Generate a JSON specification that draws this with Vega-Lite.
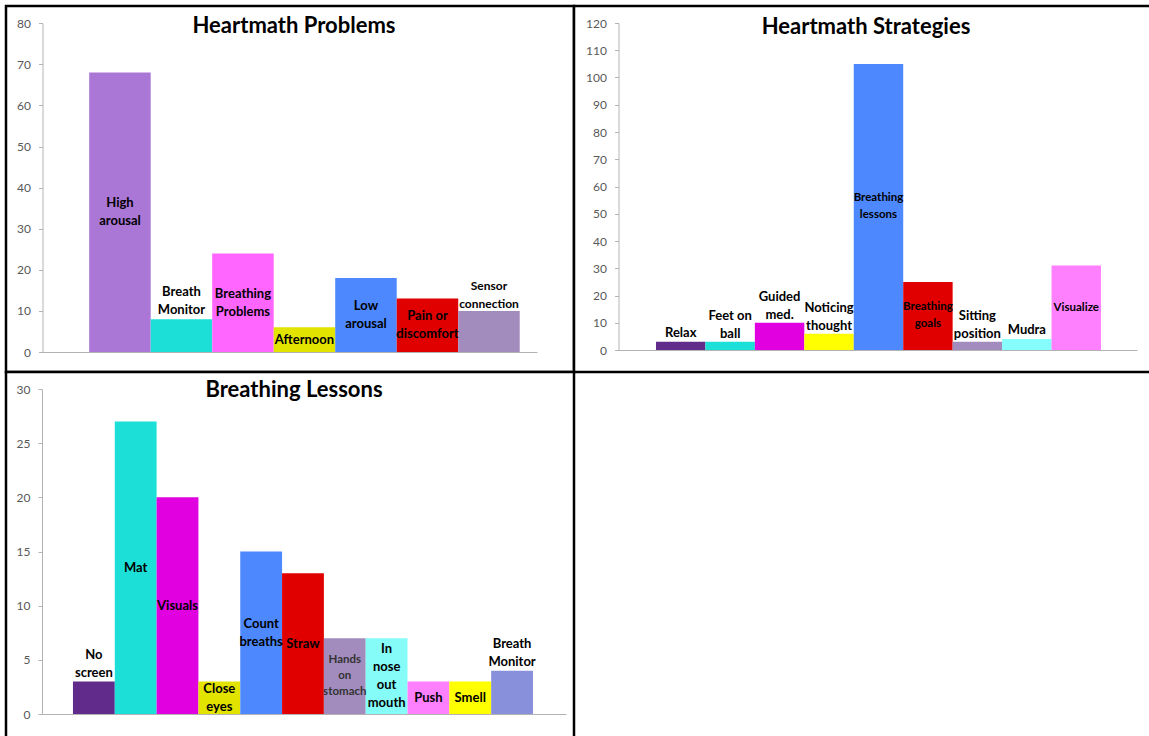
{
  "$schema": "https://vega.github.io/schema/vega-lite/v6.json",
  "padding": {"left": 4, "top": 4, "right": 0, "bottom": 0},
  "background": "white",
  "spacing": 0,
  "bounds": "flush",
  "columns": 2,
  "resolve": {"scale": {"color": "independent", "x": "independent", "y": "independent"}},
  "datasets": {
    "p1": [
      {"name": "High\narousal", "value": 68},
      {"name": "Breath\nMonitor", "value": 8},
      {"name": "Breathing\nProblems", "value": 24},
      {"name": "Afternoon", "value": 6},
      {"name": "Low\narousal", "value": 18},
      {"name": "Pain or\ndiscomfort", "value": 13},
      {"name": "Sensor\nconnection", "value": 10}
    ],
    "p2": [
      {"name": "Relax", "value": 3},
      {"name": "Feet on\nball", "value": 3},
      {"name": "Guided\nmed.", "value": 10},
      {"name": "Noticing\nthought", "value": 6},
      {"name": "Breathing\nlessons", "value": 105},
      {"name": "Breathing\ngoals", "value": 25},
      {"name": "Sitting\nposition", "value": 3},
      {"name": "Mudra", "value": 4},
      {"name": "Visualize", "value": 31}
    ],
    "p3": [
      {"name": "No\nscreen", "value": 3},
      {"name": "Mat", "value": 27},
      {"name": "Visuals", "value": 20},
      {"name": "Close\neyes", "value": 3},
      {"name": "Count\nbreaths", "value": 15},
      {"name": "Straw", "value": 13},
      {"name": "Hands\non\nstomach", "value": 7},
      {"name": "In\nnose\nout\nmouth", "value": 7},
      {"name": "Push", "value": 3},
      {"name": "Smell", "value": 3},
      {"name": "Breath\nMonitor", "value": 4}
    ]
  },
  "concat": [
    {
      "width": 568,
      "height": 366,
      "view": {"stroke": "#000000", "strokeWidth": 2.5, "fill": "white"},
      "title": {"text": "Heartmath Problems", "anchor": "middle", "frame": "group", "offset": -32, "dx": 4},
      "data": {"name": "p1"},
      "encoding": {
        "x": {"field": "name", "type": "nominal", "sort": null,
          "scale": {"range": [36.5, 531], "paddingInner": 0, "paddingOuter": 0.52, "align": 0.73},
          "axis": {"labels": false, "ticks": false, "title": null, "offset": -20}},
        "y": {"field": "value", "type": "quantitative",
          "scale": {"domain": [0, 80], "range": [346, 17.3], "nice": false},
          "axis": {"values": [0, 10, 20, 30, 40, 50, 60, 70, 80], "offset": -36.5, "title": null}}
      },
      "layer": [
        {
          "mark": {"type": "bar"},
          "encoding": {
            "color": {"field": "name", "type": "nominal", "sort": null, "legend": null,
              "scale": {
                "domain": ["High\narousal", "Breath\nMonitor", "Breathing\nProblems", "Afternoon", "Low\narousal", "Pain or\ndiscomfort", "Sensor\nconnection"],
                "range": ["#ab77d6", "#1ce0d7", "#ff66ff", "#e3e300", "#4d88ff", "#e00000", "#a18cbd"]}}
          }
        },
        {
          "transform": [
            {"filter": {"field": "name", "oneOf": ["Afternoon"]}},
            {"calculate": "datum.value / 2", "as": "mid"}
          ],
          "mark": {"type": "text", "baseline": "middle", "align": "center"},
          "encoding": {
            "y": {"field": "mid", "type": "quantitative", "scale": {"domain": [0, 80], "range": [346, 17.3], "nice": false},
              "axis": {"values": [0, 10, 20, 30, 40, 50, 60, 70, 80], "offset": -36.5, "title": null}},
            "text": {"field": "name"}
          }
        },
        {
          "transform": [
            {"filter": {"field": "name", "oneOf": ["High\narousal", "Breathing\nProblems", "Low\narousal", "Pain or\ndiscomfort"]}},
            {"calculate": "datum.value / 2", "as": "mid"}
          ],
          "mark": {"type": "text", "baseline": "middle", "align": "center", "dy": -9},
          "encoding": {
            "y": {"field": "mid", "type": "quantitative", "scale": {"domain": [0, 80], "range": [346, 17.3], "nice": false},
              "axis": {"values": [0, 10, 20, 30, 40, 50, 60, 70, 80], "offset": -36.5, "title": null}},
            "text": {"field": "name"}
          }
        },
        {
          "transform": [
            {"filter": {"field": "name", "oneOf": ["Breath\nMonitor"]}}
          ],
          "mark": {"type": "text", "baseline": "bottom", "align": "center", "dy": -20},
          "encoding": {
            "text": {"field": "name"}
          }
        },
        {
          "transform": [
            {"filter": {"field": "name", "oneOf": ["Sensor\nconnection"]}}
          ],
          "mark": {"type": "text", "baseline": "bottom", "align": "center", "dy": -18, "fontSize": 12},
          "encoding": {
            "text": {"field": "name"}
          }
        }
      ]
    },
    {
      "width": 578,
      "height": 366,
      "view": {"stroke": "#000000", "strokeWidth": 2.5, "fill": "white"},
      "title": {"text": "Heartmath Strategies", "anchor": "middle", "frame": "group", "offset": -33, "dx": 3},
      "data": {"name": "p2"},
      "encoding": {
        "x": {"field": "name", "type": "nominal", "sort": null,
          "scale": {"range": [44.5, 563], "paddingInner": 0, "paddingOuter": 0.743, "align": 0.51},
          "axis": {"labels": false, "ticks": false, "title": null, "offset": -22}},
        "y": {"field": "value", "type": "quantitative",
          "scale": {"domain": [0, 120], "range": [344, 17], "nice": false},
          "axis": {"values": [0, 10, 20, 30, 40, 50, 60, 70, 80, 90, 100, 110, 120], "offset": -44.5, "title": null}}
      },
      "layer": [
        {
          "mark": {"type": "bar"},
          "encoding": {
            "color": {"field": "name", "type": "nominal", "sort": null, "legend": null,
              "scale": {
                "domain": ["Relax", "Feet on\nball", "Guided\nmed.", "Noticing\nthought", "Breathing\nlessons", "Breathing\ngoals", "Sitting\nposition", "Mudra", "Visualize"],
                "range": ["#612b8c", "#1ce0d7", "#e000e0", "#ffff00", "#4d88ff", "#e00000", "#a18cbd", "#86fcfc", "#ff80ff"]}}
          }
        },
        {
          "transform": [
            {"filter": {"field": "name", "oneOf": ["Visualize"]}},
            {"calculate": "datum.value / 2", "as": "mid"}
          ],
          "mark": {"type": "text", "baseline": "middle", "align": "center", "fontSize": 11.5},
          "encoding": {
            "y": {"field": "mid", "type": "quantitative", "scale": {"domain": [0, 120], "range": [344, 17], "nice": false},
              "axis": {"values": [0, 10, 20, 30, 40, 50, 60, 70, 80, 90, 100, 110, 120], "offset": -44.5, "title": null}},
            "text": {"field": "name"}
          }
        },
        {
          "transform": [
            {"filter": {"field": "name", "oneOf": ["Breathing\nlessons", "Breathing\ngoals"]}},
            {"calculate": "datum.value / 2", "as": "mid"}
          ],
          "mark": {"type": "text", "baseline": "middle", "align": "center", "fontSize": 11.5, "lineHeight": 17, "dy": -8.5},
          "encoding": {
            "y": {"field": "mid", "type": "quantitative", "scale": {"domain": [0, 120], "range": [344, 17], "nice": false},
              "axis": {"values": [0, 10, 20, 30, 40, 50, 60, 70, 80, 90, 100, 110, 120], "offset": -44.5, "title": null}},
            "text": {"field": "name"}
          }
        },
        {
          "transform": [
            {"filter": {"field": "name", "oneOf": ["Relax", "Mudra"]}}
          ],
          "mark": {"type": "text", "baseline": "bottom", "align": "center", "dy": -2},
          "encoding": {
            "text": {"field": "name"}
          }
        },
        {
          "transform": [
            {"filter": {"field": "name", "oneOf": ["Feet on\nball", "Guided\nmed.", "Noticing\nthought", "Sitting\nposition"]}}
          ],
          "mark": {"type": "text", "baseline": "bottom", "align": "center", "dy": -19},
          "encoding": {
            "text": {"field": "name"}
          }
        }
      ]
    },
    {
      "width": 568,
      "height": 366,
      "view": {"stroke": "#000000", "strokeWidth": 2.5, "fill": "white"},
      "title": {"text": "Breathing Lessons", "anchor": "middle", "frame": "group", "offset": -30, "dx": 4},
      "data": {"name": "p3"},
      "encoding": {
        "x": {"field": "name", "type": "nominal", "sort": null,
          "scale": {"range": [36, 560], "paddingInner": 0, "paddingOuter": 0.765, "align": 0.484},
          "axis": {"labels": false, "ticks": false, "title": null, "offset": -24}},
        "y": {"field": "value", "type": "quantitative",
          "scale": {"domain": [0, 30], "range": [342, 17], "nice": false},
          "axis": {"values": [0, 5, 10, 15, 20, 25, 30], "offset": -36, "title": null}}
      },
      "layer": [
        {
          "mark": {"type": "bar"},
          "encoding": {
            "color": {"field": "name", "type": "nominal", "sort": null, "legend": null,
              "scale": {
                "domain": ["No\nscreen", "Mat", "Visuals", "Close\neyes", "Count\nbreaths", "Straw", "Hands\non\nstomach", "In\nnose\nout\nmouth", "Push", "Smell", "Breath\nMonitor"],
                "range": ["#612b8c", "#1ce0d7", "#e000e0", "#e3e300", "#4d88ff", "#e00000", "#a18cbd", "#86fcf8", "#ff80ff", "#ffff00", "#8890dc"]}}
          }
        },
        {
          "transform": [
            {"filter": {"field": "name", "oneOf": ["Mat", "Visuals", "Straw", "Push", "Smell"]}},
            {"calculate": "datum.value / 2", "as": "mid"}
          ],
          "mark": {"type": "text", "baseline": "middle", "align": "center"},
          "encoding": {
            "y": {"field": "mid", "type": "quantitative", "scale": {"domain": [0, 30], "range": [342, 17], "nice": false},
              "axis": {"values": [0, 5, 10, 15, 20, 25, 30], "offset": -36, "title": null}},
            "text": {"field": "name"}
          }
        },
        {
          "transform": [
            {"filter": {"field": "name", "oneOf": ["Close\neyes", "Count\nbreaths"]}},
            {"calculate": "datum.value / 2", "as": "mid"}
          ],
          "mark": {"type": "text", "baseline": "middle", "align": "center", "dy": -9},
          "encoding": {
            "y": {"field": "mid", "type": "quantitative", "scale": {"domain": [0, 30], "range": [342, 17], "nice": false},
              "axis": {"values": [0, 5, 10, 15, 20, 25, 30], "offset": -36, "title": null}},
            "text": {"field": "name"}
          }
        },
        {
          "transform": [
            {"filter": {"field": "name", "oneOf": ["Hands\non\nstomach"]}},
            {"calculate": "datum.value / 2", "as": "mid"}
          ],
          "mark": {"type": "text", "baseline": "middle", "align": "center", "fontSize": 11.5, "lineHeight": 16, "dy": -16, "color": "#333333"},
          "encoding": {
            "y": {"field": "mid", "type": "quantitative", "scale": {"domain": [0, 30], "range": [342, 17], "nice": false},
              "axis": {"values": [0, 5, 10, 15, 20, 25, 30], "offset": -36, "title": null}},
            "text": {"field": "name"}
          }
        },
        {
          "transform": [
            {"filter": {"field": "name", "oneOf": ["In\nnose\nout\nmouth"]}},
            {"calculate": "datum.value / 2", "as": "mid"}
          ],
          "mark": {"type": "text", "baseline": "middle", "align": "center", "dy": -27},
          "encoding": {
            "y": {"field": "mid", "type": "quantitative", "scale": {"domain": [0, 30], "range": [342, 17], "nice": false},
              "axis": {"values": [0, 5, 10, 15, 20, 25, 30], "offset": -36, "title": null}},
            "text": {"field": "name"}
          }
        },
        {
          "transform": [
            {"filter": {"field": "name", "oneOf": ["No\nscreen", "Breath\nMonitor"]}}
          ],
          "mark": {"type": "text", "baseline": "bottom", "align": "center", "dy": -20},
          "encoding": {
            "text": {"field": "name"}
          }
        }
      ]
    }
  ],
  "config": {
    "font": "Lato",
    "title": {"font": "Lato", "fontSize": 22, "fontWeight": "bold", "color": "#000000"},
    "axis": {"labelFont": "Lato", "labelFontSize": 12, "labelColor": "#595959", "domainColor": "#b3b3b3", "tickColor": "#b3b3b3", "tickSize": 4, "labelPadding": 8, "grid": false},
    "text": {"font": "Lato", "fontSize": 13, "fontWeight": "bold", "lineBreak": "\n", "lineHeight": 18, "color": "#000000"}
  }
}
